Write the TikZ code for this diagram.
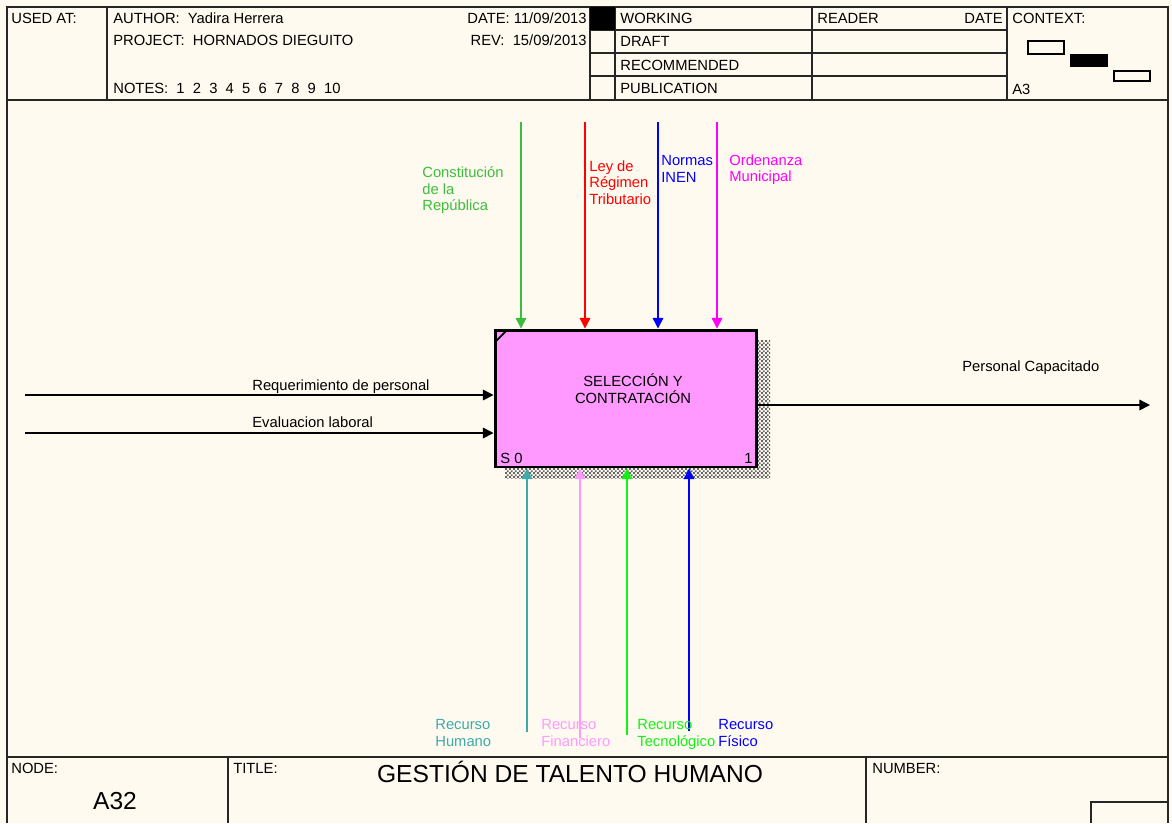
\documentclass[tikz,border=0pt]{standalone}
\usepackage{fontspec}
\setmainfont{Liberation Sans}
\usetikzlibrary{arrows.meta,patterns.meta}
\definecolor{paper}{RGB}{255,250,240}
\definecolor{boxpink}{RGB}{255,153,255}
\definecolor{ctlgreen}{RGB}{60,190,60}
\definecolor{ctlmag}{RGB}{255,0,255}
\definecolor{mecteal}{RGB}{60,170,170}
\definecolor{mecgreen}{RGB}{20,240,20}
\tikzdeclarepattern{
  name=dither,
  type=uncolored,
  bottom left={(0pt,0pt)},
  top right={(2.4pt,2.4pt)},
  tile size={(2.4pt,2.4pt)},
  code={\fill (0pt,0pt) rectangle (1.2pt,1.2pt); \fill (1.2pt,1.2pt) rectangle (2.4pt,2.4pt);}
}
\begin{document}
\begin{tikzpicture}[x=0.02cm,y=-0.02cm,
  lbl/.style={inner sep=0pt,anchor=base west,font=\fontsize{8.4}{9.6}\selectfont},
  tag/.style={inner sep=0pt,anchor=north west,align=left,font=\fontsize{8.4}{9.6}\selectfont},
  frame/.style={line width=1pt,draw=black!85},
  flow/.style={line width=0.8pt,-{Triangle[length=6pt,width=6pt]}}]
\useasboundingbox[fill=paper] (0,0) rectangle (1172,823);
\draw[frame] (7,823) -- (7,7) -- (1168,7) -- (1168,823);
\draw[frame] (7,100) -- (1168,100);
\draw[frame] (107,7) -- (107,100);
\draw[frame] (590,7) -- (590,100);
\draw[frame] (615,7) -- (615,100);
\draw[frame] (812,7) -- (812,100);
\draw[frame] (1007,7) -- (1007,100);
\foreach \y in {30,53,76} \draw[frame] (590,\y) -- (1007,\y);
\fill[black] (590,7) rectangle (615,30);
\draw[line width=0.8pt] (1028,41) rectangle (1064,54);
\fill[black] (1070,54) rectangle (1108,67);
\draw[line width=0.8pt] (1114,71) rectangle (1150,81);
\node[lbl] (usedat) at (11,23) {USED AT:};
\node[lbl] (author) at (113,23) {AUTHOR:~~Yadira Herrera};
\node[lbl] (project) at (113,45) {PROJECT:~~HORNADOS DIEGUITO};
\node[lbl] (notes) at (113,93) {NOTES:~~1~~2~~3~~4~~5~~6~~7~~8~~9~~10};
\node[lbl,anchor=base east] (date) at (587,23) {DATE: 11/09/2013};
\node[lbl,anchor=base east] (rev) at (587,45) {REV:~~15/09/2013};
\node[lbl] (working) at (620,23) {WORKING};
\node[lbl] (draft) at (620,46) {DRAFT};
\node[lbl] (recom) at (620,70) {RECOMMENDED};
\node[lbl] (public) at (620,93) {PUBLICATION};
\node[lbl] (reader) at (817,23) {READER};
\node[lbl,anchor=base east] (rdate) at (1003,23) {DATE};
\node[lbl] (context) at (1012,23) {CONTEXT:};
\node[lbl] (sheet) at (1012,94) {A3};
\draw[frame,line width=1.6pt] (7,757) -- (1168,757);
\draw[frame] (228,757) -- (228,823);
\draw[frame] (866,757) -- (866,823);
\draw[frame] (1091,823) -- (1091,802) -- (1168,802);
\node[lbl] (nodelbl) at (11,773) {NODE:};
\node[lbl] (titlelbl) at (233,773) {TITLE:};
\node[lbl] (numlbl) at (872,773) {NUMBER:};
\node[inner sep=0pt,anchor=base,font=\fontsize{14}{16}\selectfont] (nodenum) at (115,809) {A32};
\node[inner sep=0pt,anchor=base,font=\fontsize{14}{16}\selectfont] (title) at (570,782) {GESTIÓN DE TALENTO HUMANO};
\fill[pattern=dither,pattern color=black!60] (505,340) rectangle (770,478);
\node[draw,line width=1.7pt,fill=boxpink,inner sep=0pt,
  minimum width=5.24cm,minimum height=2.74cm] (act) at (626,398.5) {};
\draw[line width=1pt] (495,342) -- (507,330);
\node[tag,anchor=center,align=center] (acttxt) at (633,389) {SELECCIÓN Y\\CONTRATACIÓN};
\node[lbl] (actid) at (500,463) {S 0};
\node[lbl,anchor=base east] (actnum) at (753,463) {1};
\coordinate (ctl1) at (521,122);
\coordinate (ctl2) at (585,122);
\coordinate (ctl3) at (658,122);
\coordinate (ctl4) at (717,122);
\draw[flow,ctlgreen] (ctl1) -- (ctl1 |- act.north);
\draw[flow,red] (ctl2) -- (ctl2 |- act.north);
\draw[flow,blue] (ctl3) -- (ctl3 |- act.north);
\draw[flow,ctlmag] (ctl4) -- (ctl4 |- act.north);
\node[tag,text=ctlgreen] (ctl1lbl) at (422,166) {Constitución\\de la\\República};
\node[tag,text=red] (ctl2lbl) at (589,160) {Ley de\\Régimen\\Tributario};
\node[tag,text=blue] (ctl3lbl) at (661,155) {Normas\\INEN};
\node[tag,text=ctlmag] (ctl4lbl) at (729,154) {Ordenanza\\Municipal};
\coordinate (mec1) at (527,732);
\coordinate (mec2) at (580,738);
\coordinate (mec3) at (627,735);
\coordinate (mec4) at (689,731);
\draw[flow,mecteal] (mec1) -- (mec1 |- act.south);
\draw[flow,boxpink] (mec2) -- (mec2 |- act.south);
\draw[flow,mecgreen] (mec3) -- (mec3 |- act.south);
\draw[flow,blue] (mec4) -- (mec4 |- act.south);
\node[tag,text=mecteal] (mec1lbl) at (435,719) {Recurso\\Humano};
\node[tag,text=boxpink] (mec2lbl) at (541,719) {Recurso\\Financiero};
\node[tag,text=mecgreen] (mec3lbl) at (637,719) {Recurso\\Tecnológico};
\node[tag,text=blue] (mec4lbl) at (718,719) {Recurso\\Físico};
\coordinate (in1) at (25,395);
\coordinate (in2) at (25,433);
\coordinate (out1) at (1150,405);
\draw[flow] (in1) -- (in1 -| act.west);
\draw[flow] (in2) -- (in2 -| act.west);
\draw[flow] (act.east |- out1) -- (out1);
\node[lbl] (in1lbl) at (252,390) {Requerimiento de personal};
\node[lbl] (in2lbl) at (252,427) {Evaluacion laboral};
\node[lbl] (out1lbl) at (962,371) {Personal Capacitado};
\end{tikzpicture}
\end{document}
